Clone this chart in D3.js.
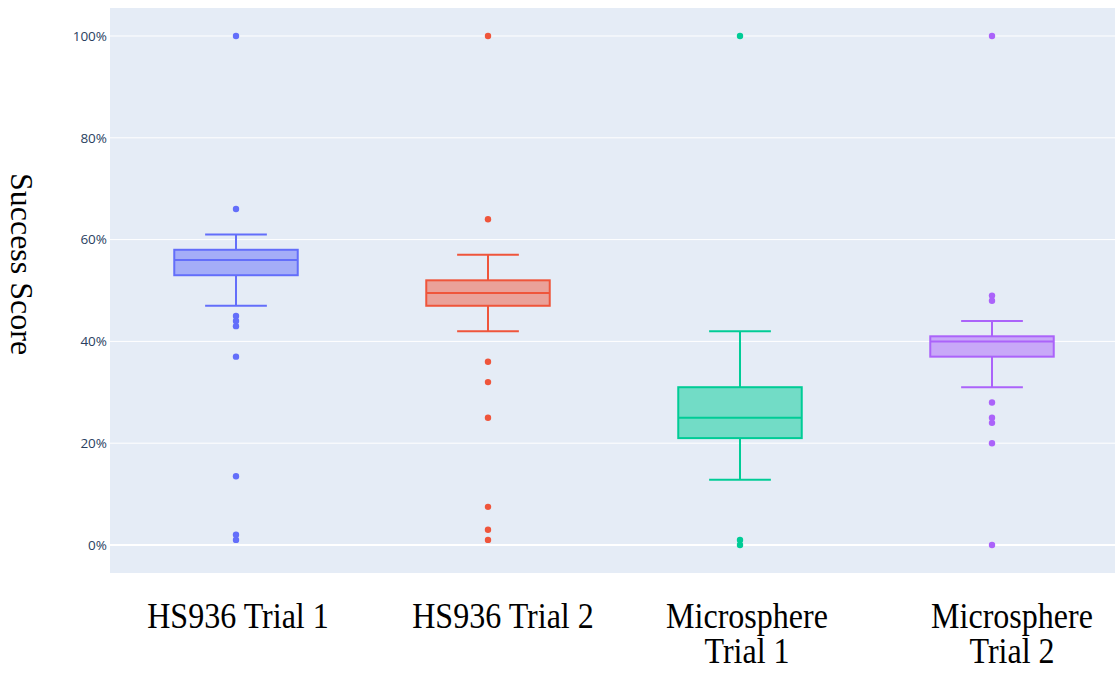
<!DOCTYPE html>
<html>
<head>
<meta charset="utf-8">
<script src="https://cdn.jsdelivr.net/npm/d3@7"></script>
<style>
  html, body { margin: 0; padding: 0; background: #fff; }
  svg { display: block; }
</style>
</head>
<body>
<div id="chart"></div>
<script>
// box stats (percent)
const categories = [['HS936 Trial 1'], ['HS936 Trial 2'], ['Microsphere', 'Trial 1'], ['Microsphere', 'Trial 2']]
const colors = ['#636efa', '#EF553B', '#00cc96', '#ab63fa']
const lowerFence = [47, 42, 12.8, 31]
const q1 = [53, 47, 21, 37]
const median = [56, 49.5, 25, 40]
const q3 = [58, 52, 31, 41]
const upperFence = [61, 57, 42, 44]
const outliers = [
  [100, 66, 45, 44, 43, 37, 13.5, 2, 1],
  [100, 64, 36, 32, 25, 7.5, 3, 1],
  [100, 1, 0],
  [100, 49, 48, 28, 25, 24, 20, 0]
]
const yTicks = [0, 20, 40, 60, 80, 100]

const W = 1115, H = 674
const margin = { top: 8, right: -3, bottom: 101, left: 110 }
const w = W - margin.left - margin.right
const h = H - margin.top - margin.bottom

const svg = d3.select('#chart').append('svg').attr('width', W).attr('height', H)
const g = svg.append('g').attr('transform', `translate(${margin.left},${margin.top})`)

g.append('rect').attr('width', w).attr('height', h).attr('fill', '#E5ECF6')

const x = d3.scaleBand().domain(d3.range(categories.length)).range([0, w])
const y = d3.scaleLinear().domain([-5.5, 105.5]).range([h, 0])

// grid
g.selectAll('.grid').data(yTicks).join('line')
  .attr('x1', 0).attr('x2', w)
  .attr('y1', d => y(d)).attr('y2', d => y(d))
  .attr('stroke', '#fff').attr('stroke-width', d => d === 0 ? 2 : 1)

// y tick labels
g.selectAll('.ytick').data(yTicks).join('text')
  .attr('x', -3).attr('y', d => y(d)).attr('dy', '0.35em')
  .attr('text-anchor', 'end')
  .attr('font-family', '"Open Sans", verdana, arial, sans-serif')
  .attr('font-size', 13.5).attr('fill', '#2a3f5f')
  .text(d => d + '%')

const boxW = x.step() * 0.49
const capW = boxW / 2
// the exported tick labels sit a little right of the box centres
const labelNudge = [2, 15, 7, 20]

categories.forEach((cat, i) => {
  const cx = x(i) + x.bandwidth() / 2
  const c = colors[i]
  const bg = g.append('g')
  // whiskers
  bg.append('line').attr('x1', cx).attr('x2', cx).attr('y1', y(q3[i])).attr('y2', y(upperFence[i]))
    .attr('stroke', c).attr('stroke-width', 2)
  bg.append('line').attr('x1', cx).attr('x2', cx).attr('y1', y(q1[i])).attr('y2', y(lowerFence[i]))
    .attr('stroke', c).attr('stroke-width', 2)
  ;[upperFence[i], lowerFence[i]].forEach(v => {
    bg.append('line').attr('x1', cx - capW / 2).attr('x2', cx + capW / 2).attr('y1', y(v)).attr('y2', y(v))
      .attr('stroke', c).attr('stroke-width', 2)
  })
  // box
  bg.append('rect')
    .attr('x', cx - boxW / 2).attr('width', boxW)
    .attr('y', y(q3[i])).attr('height', y(q1[i]) - y(q3[i]))
    .attr('fill', c).attr('fill-opacity', 0.5)
    .attr('stroke', c).attr('stroke-width', 2)
  bg.append('line').attr('x1', cx - boxW / 2).attr('x2', cx + boxW / 2)
    .attr('y1', y(median[i])).attr('y2', y(median[i]))
    .attr('stroke', c).attr('stroke-width', 2)
  // outliers
  bg.selectAll('circle').data(outliers[i]).join('circle')
    .attr('cx', cx).attr('cy', d => y(d)).attr('r', 3.2).attr('fill', c)

  // category label (condensed serif)
  const lx = margin.left + cx + labelNudge[i]
  const t = svg.append('text')
    .attr('transform', `translate(${lx},628) scale(0.89,1)`)
    .attr('text-anchor', 'middle')
    .attr('font-family', '"Liberation Serif", "Times New Roman", serif')
    .attr('font-size', 36).attr('fill', '#000')
  cat.forEach((line, k) => {
    t.append('tspan').attr('x', 0).attr('y', k * 35.5).text(line)
  })
})

// y axis title
svg.append('text')
  .attr('transform', 'translate(22,264) rotate(90)')
  .attr('text-anchor', 'middle').attr('dy', '0.35em')
  .attr('font-family', '"Liberation Serif", "Times New Roman", serif')
  .attr('font-size', 32).attr('fill', '#000')
  .text('Success Score')
</script>
</body>
</html>
